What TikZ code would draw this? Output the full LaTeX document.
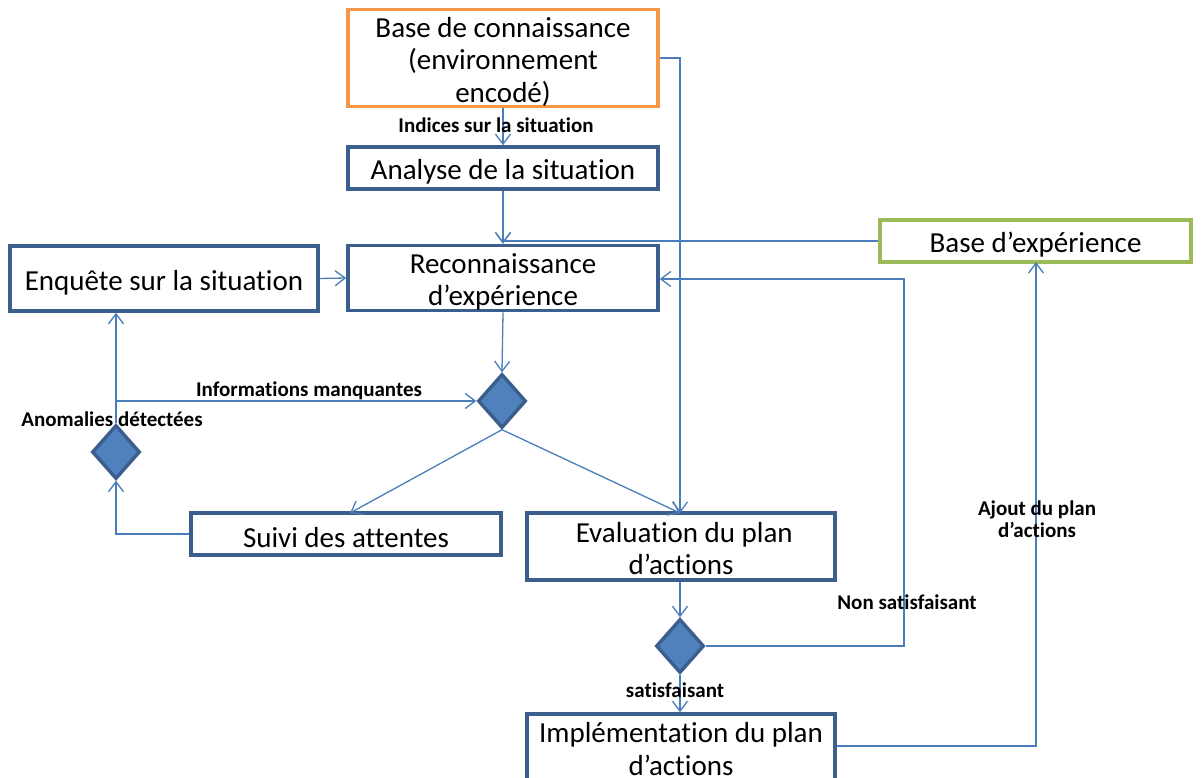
\documentclass[tikz,border=0pt]{standalone}
\usepackage{fontspec}
\setmainfont{Carlito}[Ligatures=NoCommon]
\usetikzlibrary{arrows.meta,shapes.geometric}
\definecolor{flow}{HTML}{4A7EBB}
\definecolor{boxline}{HTML}{3B5E8C}
\definecolor{kbase}{HTML}{F79646}
\definecolor{xbase}{HTML}{9BBB59}
\definecolor{decfill}{HTML}{4F81BD}
% strut that lowers the first line of a box label slightly
\newcommand{\firststrut}[1][28pt]{\rule{0pt}{#1}}
\tikzset{
  stepbox/.style={draw=boxline, line width=3.6pt, fill=white, align=center,
    font=\fontsize{29}{32.5}\selectfont, inner sep=0pt},
  decision/.style={diamond, draw=boxline, line width=3.4pt, fill=decfill,
    minimum width=48pt, minimum height=54pt, inner sep=0pt, aspect=0.9},
  flowline/.style={draw=flow, line width=1.3pt},
  flowarrow/.style={flowline, -{Straight Barb[length=10pt,width=15pt,line width=1.3pt]}},
  tag/.style={font=\bfseries\fontsize{21}{22}\selectfont, inner sep=0pt}
}
\begin{document}
\begin{tikzpicture}[x=1pt,y=-1pt]
\useasboundingbox (0,0) rectangle (1201,778);
\clip (0,0) rectangle (1201,778);
% process boxes
\node[stepbox, draw=kbase, minimum width=310pt, minimum height=94pt] (bcon) at (503,58)
  {\firststrut Base de connaissance\\(environnement\\encodé)};
\node[stepbox, minimum width=310pt, minimum height=42pt] (ana) at (503,168) {\firststrut Analyse de la situation};
\node[stepbox, minimum width=310pt, minimum height=64pt] (reco) at (503,278) {\firststrut Reconnaissance\\d’expérience};
\node[stepbox, minimum width=308pt, minimum height=65pt] (enq) at (164,278.5) {\firststrut Enquête sur la situation};
\node[stepbox, draw=xbase, minimum width=311pt, minimum height=42pt] (bexp) at (1035.5,241) {\firststrut Base d’expérience};
\node[stepbox, minimum width=310pt, minimum height=42pt] (suivi) at (346,534) {\firststrut Suivi des attentes};
\node[stepbox, minimum width=308pt, minimum height=67pt] (eval) at (681,546.5) {\firststrut[24pt] Evaluation du plan\\d’actions};
\node[stepbox, minimum width=308pt, minimum height=70pt] (impl) at (681,749) {Implémentation du plan\\d’actions};
% decision points
\node[decision] (d1) at (502,401) {};
\node[decision] (d2) at (116,452) {};
\node[decision] (d3) at (680,646) {};
% connectors
\draw[flowarrow] (bcon.south) -- (ana.north);
\draw[flowarrow] (ana.south) -- (reco.north);
\draw[flowarrow] (bexp.west) -- (bexp.west -| reco.north) -- (reco.north);
\draw[flowarrow] (bcon.east) -- (680,58) -- (680,513);
\draw[flowarrow] (enq.east) -- (reco.west);
\draw[flowarrow] (reco.south) -- (d1.north);
\draw[flowarrow] (d1.south) -- (350,513);
\draw[flowarrow] (d1.south) -- (680,513);
\draw[flowarrow] (suivi.west) -- (suivi.west -| d2.south) -- (d2.south);
\draw[flowarrow] (d2.north) -- (d2.north |- enq.south);
\draw[flowarrow] (d2.north |- d1.west) -- (d1.west);
\draw[flowarrow] (eval.south -| d3.north) -- (d3.north);
\draw[flowarrow] (d3.east) -- (904,646) -- (904,279) -- (reco.east |- 0,279);
\draw[flowarrow] (d3.south) -- (d3.south |- impl.north);
\draw[flowarrow] (impl.east |- 0,746) -- (1036,746) -- (1036,262);
% connector labels
\node[tag] (l1) at (496,125) {Indices sur la situation};
\node[tag] (l2) at (309,391) {Informations manquantes};
\node[tag] (l3) at (112,419) {Anomalies détectées};
\node[tag] (l4) at (907,602) {Non satisfaisant};
\node[tag] (l5) at (675,690) {satisfaisant};
\node[tag, align=center] (l6) at (1037,519) {Ajout du plan\\d’actions};
\end{tikzpicture}
\end{document}
